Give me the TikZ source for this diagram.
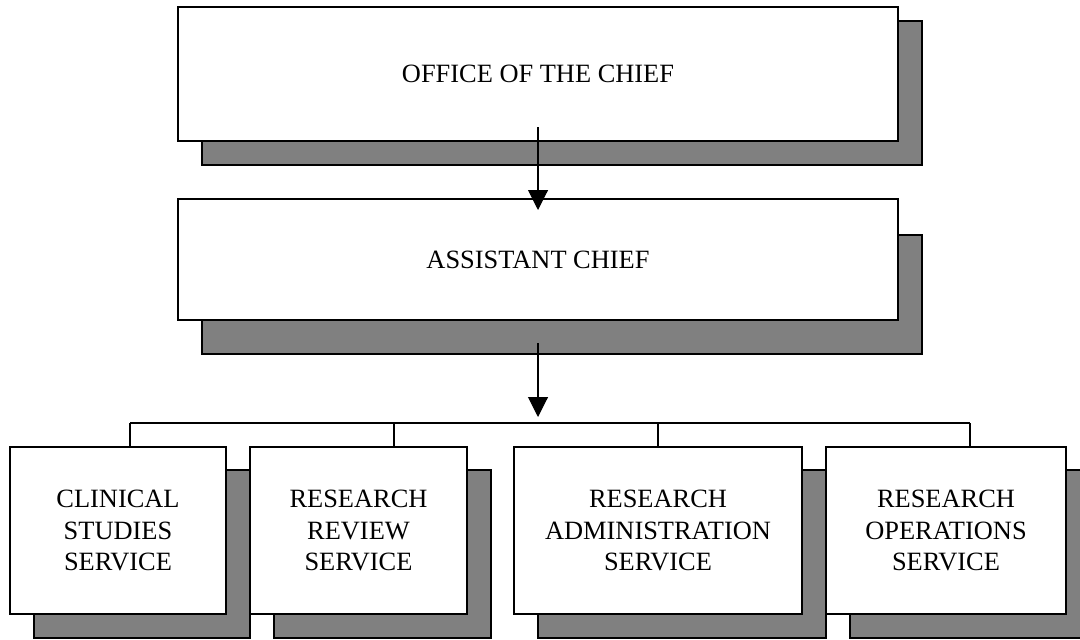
\documentclass[tikz,border=0pt]{standalone}
\usepackage{fontspec}
\setmainfont{Liberation Serif}
\usetikzlibrary{arrows.meta}
\begin{document}
\begin{tikzpicture}[x=0.75pt,y=-0.75pt,
    box/.style={draw,line width=1.1pt,fill=white,align=center,inner sep=0pt,font=\fontsize{19.8}{23.3}\selectfont},
    boxshadow/.style={draw,line width=1.1pt,fill=gray},
    link/.style={line width=0.8pt},
    arr/.style={link,-{Triangle[length=15pt,width=15pt]}}]
        \useasboundingbox (0,0) rectangle (1080,639);
        \clip (0,0) rectangle (1080,639);
        % shadows
        \draw[boxshadow] (202,21) rectangle (922,165);
        \draw[boxshadow] (202,235) rectangle (922,354);
        \draw[boxshadow] (34,470) rectangle (250,638);
        \draw[boxshadow] (274,470) rectangle (491,638);
        \draw[boxshadow] (538,470) rectangle (826,638);
        \draw[boxshadow] (850,470) rectangle (1091,638);
        % boxes
        \node[box,minimum width=540pt,minimum height=100.5pt] (chief) at (538,74) {OFFICE OF THE CHIEF};
        \node[box,minimum width=540pt,minimum height=90.75pt] (asst) at (538,259.5) {ASSISTANT CHIEF};
        \node[box,minimum width=162pt,minimum height=125.25pt] (clin) at (118,530.5) {CLINICAL\\STUDIES\\SERVICE};
        \node[box,minimum width=162.75pt,minimum height=125.25pt] (rev) at (358.5,530.5) {RESEARCH\\REVIEW\\SERVICE};
        \node[box,minimum width=216pt,minimum height=125.25pt] (adm) at (658,530.5) {RESEARCH\\ADMINISTRATION\\SERVICE};
        \node[box,minimum width=180pt,minimum height=125.25pt] (ops) at (946,530.5) {RESEARCH\\OPERATIONS\\SERVICE};
        % arrows
        \coordinate (a1) at (538,127);
        \coordinate (a2) at (538,210);
        \draw[arr] (a1) -- (a2);
        \coordinate (b1) at (538,343);
        \coordinate (b2) at (538,417);
        \draw[arr] (b1) -- (b2);
        % bracket
        \coordinate (t1) at (130,423);
        \coordinate (t2) at (394,423);
        \coordinate (t3) at (658,423);
        \coordinate (t4) at (970,423);
        \draw[link] (t1) -- (t4);
        \draw[link] (t1) -- (t1 |- clin.north);
        \draw[link] (t2) -- (t2 |- rev.north);
        \draw[link] (t3) -- (adm.north);
        \draw[link] (t4) -- (t4 |- ops.north);
    \end{tikzpicture}
\end{document}
